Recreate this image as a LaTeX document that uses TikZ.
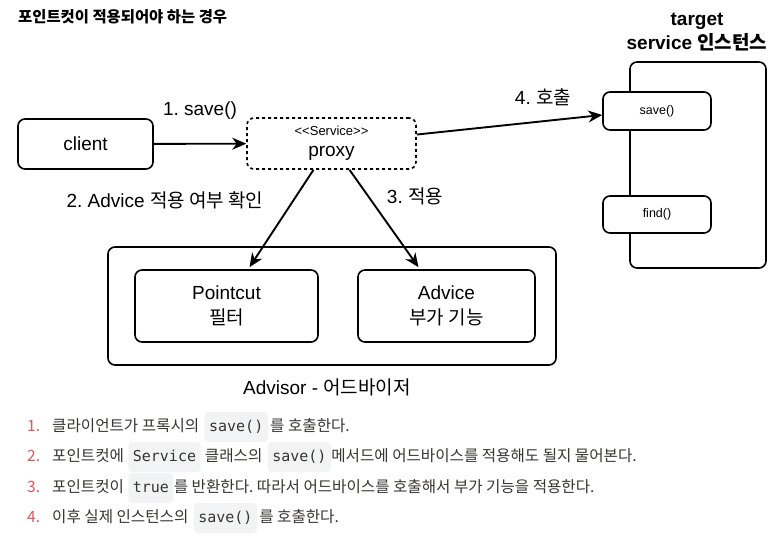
\documentclass[tikz,border=0pt]{standalone}
\usepackage{fontspec}
\setmainfont{Liberation Sans}
\setmonofont{DejaVu Sans Mono}
\newfontfamily\kr{Noto Sans CJK KR}
\usetikzlibrary{positioning, arrows.meta}
\definecolor{numred}{RGB}{224,86,88}
\definecolor{textgray}{RGB}{55,53,47}
\definecolor{codebg}{RGB}{242,243,245}
\frenchspacing

\begin{document}
\begin{tikzpicture}[x=1pt, y=-1pt,
  box/.style={draw, fill=white, line width=1.6pt, rounded corners=7pt, align=center},
  lbl/.style={font=\fontsize{19}{25}\selectfont, align=center},
  arr/.style={-{Stealth[length=14pt, width=12pt]}, line width=1.9pt},
  num/.style={anchor=west, text=numred, font=\kr\fontsize{15.6}{18}\selectfont, inner sep=0pt, text height=11pt, text depth=3pt},
  txt/.style={text=textgray, font=\kr\fontsize{15.6}{18}\selectfont, inner xsep=0pt, inner ysep=8pt, text height=11pt, text depth=3pt},
  code/.style={fill=codebg, rounded corners=4pt, text=textgray, font=\ttfamily\fontsize{15}{17}\selectfont, inner xsep=4.5pt, inner ysep=8pt, text height=11pt, text depth=3pt}]
\useasboundingbox (0,0) rectangle (779,536);

% Title
\node[anchor=west, inner sep=0pt, font=\kr\bfseries\fontsize{15.4}{18}\selectfont] (title) at (18,17) {포인트컷이 적용되어야 하는 경우};

% Client and proxy
\node[box, lbl, minimum width=135pt, minimum height=50pt] (client) at (85.5,144) {client};
\node[box, lbl, dashed, minimum width=169pt, minimum height=51pt] (proxy) at (331.5,143.5) {{\fontsize{13}{14}\selectfont\textless\kern0pt\textless Service\textgreater\kern0pt\textgreater}\\[-4pt]proxy};

% Target service
\node[lbl, font=\bfseries\fontsize{19}{24}\selectfont] (tlabel) at (697,32) {target\\service {\kr 인스턴스}};
\node[box, minimum width=136pt, minimum height=206pt] (target) at (698,165) {};
\node[box, font=\fontsize{12.5}{15}\selectfont, minimum width=108pt, minimum height=38pt] (tsave) at (657,111) {save()};
\node[box, font=\fontsize{12.5}{15}\selectfont, minimum width=108pt, minimum height=37pt] (tfind) at (657,214.5) {find()};

% Advisor
\node[box, minimum width=448pt, minimum height=118pt] (advisor) at (332,306) {};
\node[box, lbl, minimum width=183pt, minimum height=72pt] (pointcut) at (226.5,306) {Pointcut\\{\kr 필터}};
\node[box, lbl, minimum width=177pt, minimum height=72pt] (advice) at (446.5,306) {Advice\\{\kr 부가 기능}};
\node[lbl] (advlabel) at (327,387) {Advisor - {\kr 어드바이저}};

% Calls
\draw[arr] (client) -- (proxy);
\node[lbl] (l1) at (200,111) {1. save()};
\draw[arr] (proxy.6) -- ([yshift=-4pt]tsave.west);
\node[lbl] (l4) at (543,97) {4. {\kr 호출}};
\draw[arr] ([xshift=-18pt]proxy.south) -- ([xshift=23pt, yshift=2pt]pointcut.north);
\node[lbl] (l2) at (165,200) {2. Advice {\kr 적용 여부 확인}};
\draw[arr] ([xshift=18pt]proxy.south) -- ([xshift=-28pt, yshift=2pt]advice.north);
\node[lbl] (l3) at (415,196) {3. {\kr 적용}};

% Notes
\node[num] (n1) at (27,427) {1.};
\node[txt, anchor=west] (t1a) at (52,427) {클라이언트가 프록시의};
\node[code, right=5pt of t1a] (c1) {save()};
\node[txt, right=2pt of c1] (t1b) {를 호출한다.};

\node[num] (n2) at (27,457) {2.};
\node[txt, anchor=west] (t2a) at (52,457) {포인트컷에};
\node[code, right=4pt of t2a] (c2a) {Service};
\node[txt, right=4pt of c2a] (t2b) {클래스의};
\node[code, right=5pt of t2b] (c2b) {save()};
\node[txt, right=0pt of c2b] (t2c) {메서드에 어드바이스를 적용해도 될지 물어본다.};

\node[num] (n3) at (27,488) {3.};
\node[txt, anchor=west] (t3a) at (52,488) {포인트컷이};
\node[code, right=4pt of t3a] (c3) {true};
\node[txt, right=0pt of c3] (t3b) {를 반환한다. 따라서 어드바이스를 호출해서 부가 기능을 적용한다.};

\node[num] (n4) at (27,518) {4.};
\node[txt, anchor=west] (t4a) at (52,518) {이후 실제 인스턴스의};
\node[code, right=5pt of t4a] (c4) {save()};
\node[txt, right=2pt of c4] (t4b) {를 호출한다.};
\end{tikzpicture}
\end{document}
